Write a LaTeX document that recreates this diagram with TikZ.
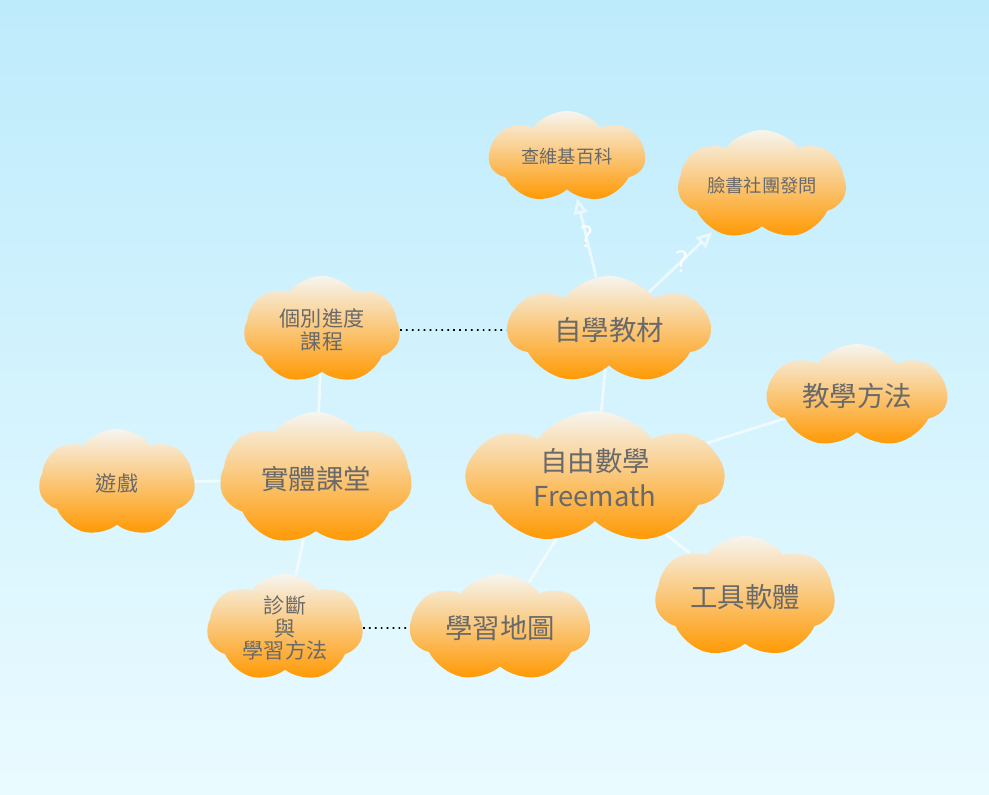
\documentclass[tikz,border=0pt]{standalone}
\usepackage{fontspec}
\newfontfamily\cjk{Noto Sans CJK TC}
\usetikzlibrary{shapes.symbols,arrows.meta}
\definecolor{skytop}{RGB}{190,235,252}
\definecolor{skybot}{RGB}{234,251,255}
\definecolor{puffhi}{RGB}{246,245,240}
\definecolor{pufflo}{RGB}{255,152,0}
\definecolor{inkgray}{RGB}{105,105,105}
\begin{document}
\begin{tikzpicture}[x=0.025cm,y=-0.025cm,
		puff/.style={cloud,cloud puffs=7,cloud puff arc=105,cloud ignores aspect,draw=none,
			top color=puffhi,bottom color=pufflo,text=inkgray,align=center,inner sep=0pt},
		smalltext/.style={font=\cjk\fontsize{13}{16}\selectfont},
		midtext/.style={font=\cjk\fontsize{15}{16}\selectfont},
		bigtext/.style={font=\cjk\fontsize{19.5}{25}\selectfont},
		link/.style={white,draw opacity=0.6,line width=2pt},
		peer/.style={black,line width=1.2pt,dash pattern=on 1.2pt off 3pt},
		ask/.style={white,draw opacity=0.6,line width=2pt,-{Triangle[open,length=11pt,width=10pt]},shorten >=2pt},
		qmark/.style={text=white,font=\fontsize{22}{22}\selectfont\sffamily,inner sep=0pt}]
	% nen troi
	\fill[top color=skytop,bottom color=skybot] (0,0) rectangle (989,795);
	\useasboundingbox (0,0) rectangle (989,795);
	% cac dam may
	\node[puff,smalltext,minimum width=3.9cm,minimum height=2.3cm] (wiki) at (567,157) {查維基百科};
	\node[puff,smalltext,minimum width=4.2cm,minimum height=2.75cm] (fb) at (762,185) {臉書社團發問};
	\node[puff,bigtext,minimum width=5.05cm,minimum height=2.7cm] (self) at (609,330) {自學教材};
	\node[puff,midtext,minimum width=3.9cm,minimum height=2.7cm] (pace) at (322,330) {個別進度\\課程};
	\node[puff,bigtext,minimum width=4.5cm,minimum height=2.6cm] (teach) at (857,396) {教學方法};
	\node[puff,bigtext,minimum width=6.4cm,minimum height=3.35cm] (free) at (595,478) {自由數學\\Freemath};
	\node[puff,midtext,minimum width=3.9cm,minimum height=2.7cm] (game) at (117,483) {遊戲};
	\node[puff,bigtext,minimum width=4.8cm,minimum height=3.35cm] (room) at (316,479) {實體課堂};
	\node[puff,bigtext,minimum width=4.5cm,minimum height=3.05cm] (tool) at (745,597) {工具軟體};
	\node[puff,midtext,minimum width=3.9cm,minimum height=2.7cm] (diag) at (285,628) {診斷\\與\\學習方法};
	\node[puff,bigtext,minimum width=4.5cm,minimum height=2.7cm] (map) at (500,628) {學習地圖};
	% lien ket
	\draw[link] (self) -- (free);
	\draw[link] (free) -- (teach);
	\draw[link] (free) -- (tool);
	\draw[link] (free) -- (map);
	\draw[link] (room) -- (game);
	\draw[link] (room) -- (pace);
	\draw[link] (room) -- (diag);
	\draw[peer] (pace) -- (self);
	\draw[peer] (diag) -- (map);
	\draw[ask] (self) -- node[qmark]{?} (wiki);
	\draw[ask] (self) -- node[qmark]{?} (fb);
\end{tikzpicture}
\end{document}
